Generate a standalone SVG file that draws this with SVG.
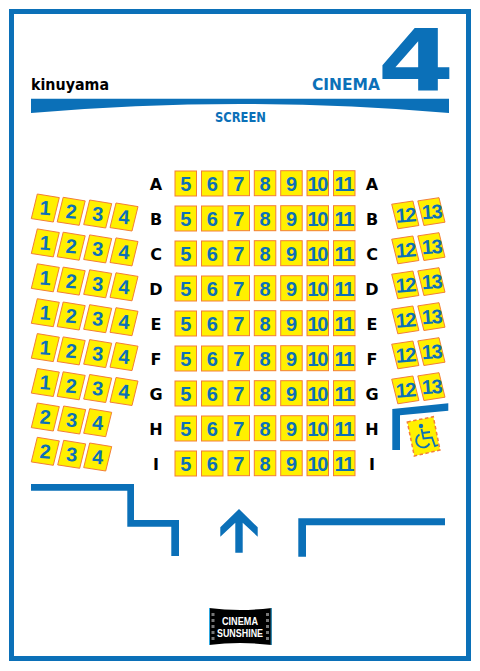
<svg xmlns="http://www.w3.org/2000/svg" width="480" height="671" viewBox="0 0 480 671">
<style>
.b{fill:#0b70b8}
.m{fill:#fff000;stroke:#f37e38;stroke-width:1}
text{font-family:"Liberation Sans",Arial,sans-serif;font-weight:700;text-anchor:middle}
.n{font-size:20px;fill:#0b70b8}
.nn{font-size:20px;fill:#0b70b8;letter-spacing:-1.500px}
.r{font-family:"DejaVu Sans",sans-serif;font-size:16px;fill:#000}
.d{font-family:"DejaVu Sans",sans-serif}
</style>
<defs>
<rect id="c" class="m" x="0" y="0" width="21.5" height="25"/>
<polygon id="L" class="m" points="-8,-14 14,-10.4 8,14 -14,10.6"/>
<polygon id="R" class="m" points="-13.6,-10.8 7.6,-14 13.6,10.5 -7.5,13.8"/>
<g id="k">
<g transform="translate(175,0)"><use href="#c"/><text class="n" x="10.75" y="20">5</text></g>
<g transform="translate(201.5,0)"><use href="#c"/><text class="n" x="10.75" y="20">6</text></g>
<g transform="translate(228,-.3)"><use href="#c"/><text class="n" x="10.75" y="20">7</text></g>
<g transform="translate(254.3,-.3)"><use href="#c"/><text class="n" x="10.75" y="20">8</text></g>
<g transform="translate(280.7,-.3)"><use href="#c"/><text class="n" x="10.75" y="20">9</text></g>
<g transform="translate(307,-.3)"><use href="#c"/><text class="nn" x="10.2" y="20">10</text></g>
<g transform="translate(333.5,-.3)"><use href="#c"/><text class="nn" x="10.2" y="20">11</text></g>
</g>
<g id="l4">
<g transform="translate(45.3,208)"><use href="#L"/><text class="n" y="7" transform="rotate(4)">1</text></g>
<g transform="translate(71.2,211.3)"><use href="#L"/><text class="n" y="7" transform="rotate(4)">2</text></g>
<g transform="translate(97.7,214)"><use href="#L"/><text class="n" y="7" transform="rotate(4)">3</text></g>
<g transform="translate(124,217)"><use href="#L"/><text class="n" y="7" transform="rotate(4)">4</text></g>
</g>
<g id="l3">
<g transform="translate(45.3,0)"><use href="#L"/><text class="n" y="7" transform="rotate(4)">2</text></g>
<g transform="translate(71.7,3)"><use href="#L"/><text class="n" y="7" transform="rotate(4)">3</text></g>
<g transform="translate(97.7,5.7)"><use href="#L"/><text class="n" y="7" transform="rotate(4)">4</text></g>
</g>
<g id="r2">
<g transform="translate(405.3,215)"><use href="#R"/><text class="nn" y="7" transform="rotate(-4)">12</text></g>
<g transform="translate(431.4,211.7)"><use href="#R"/><text class="nn" y="7" transform="rotate(-4)">13</text></g>
</g>
</defs>
<rect width="480" height="671" fill="#fff"/>
<rect id="frame" x="11.5" y="11.5" width="457" height="647" fill="none" stroke="#0b70b8" stroke-width="5"/>

<g id="header">
<text class="d" x="70" y="90" font-size="15.500" textLength="78" lengthAdjust="spacingAndGlyphs" fill="#000">kinuyama</text>
<text class="d b" x="346" y="90" font-size="16" textLength="68" lengthAdjust="spacingAndGlyphs">CINEMA</text>
<text class="d b" transform="translate(416,90) scale(1.3,1)" font-size="85">4</text>
<path id="screen" class="b" d="M31,98.7H449V113Q240,95 31,113Z"/>
<text class="d b" x="240.500" y="122" font-size="13.500" textLength="51" lengthAdjust="spacingAndGlyphs">SCREEN</text>
</g>

<g id="row-labels">
<text class="r" x="156" y="190">A</text><text class="r" x="372" y="190">A</text>
<text class="r" x="156" y="225">B</text><text class="r" x="372" y="225">B</text>
<text class="r" x="156" y="260">C</text><text class="r" x="372" y="260">C</text>
<text class="r" x="156" y="295">D</text><text class="r" x="372" y="295">D</text>
<text class="r" x="156" y="330">E</text><text class="r" x="372" y="330">E</text>
<text class="r" x="156" y="365">F</text><text class="r" x="372" y="365">F</text>
<text class="r" x="156" y="400">G</text><text class="r" x="372" y="400">G</text>
<text class="r" x="156" y="435">H</text><text class="r" x="372" y="435">H</text>
<text class="r" x="156" y="470">I</text><text class="r" x="372" y="470">I</text>
</g>

<g id="seats-center">
<use href="#k" y="171"/><use href="#k" y="206"/><use href="#k" y="241"/><use href="#k" y="276"/><use href="#k" y="311"/><use href="#k" y="346"/><use href="#k" y="381"/><use href="#k" y="416"/><use href="#k" y="451"/>
</g>
<g id="seats-left">
<use href="#l4"/><use href="#l4" y="34.9"/><use href="#l4" y="69.8"/><use href="#l4" y="104.700"/><use href="#l4" y="139.600"/><use href="#l4" y="174.500"/>
<use href="#l3" y="417"/><use href="#l3" y="451.300"/>
</g>
<g id="seats-right">
<use href="#r2"/><use href="#r2" y="35"/><use href="#r2" y="70"/><use href="#r2" y="105"/><use href="#r2" y="140"/><use href="#r2" y="175"/>
</g>

<g id="wheelchair-area">
<polygon class="b" points="392.300,409 448.300,403.300 448.300,410.700 400,415.300 400,450 392.300,450"/>
<polygon points="407.300,422 433.300,416.700 440,450 414.300,456" fill="#fff000" stroke="#f37e38" stroke-width="1.500" stroke-dasharray="3.500 2.500"/>
<circle cx="421" cy="426" r="2.200" class="b"/>
<path d="M421.500,429L423.500,438.500L432,437.500L435,446L438,445M422.500,433L430,432M419.500,434.500A7,7 0 1 0 429.500,443.500" fill="none" stroke="#0b70b8" stroke-width="1.800"/>
</g>

<g id="walls">
<polygon class="b" points="31,484 134,484 134,520 179,520 179,556 171.300,556 171.300,526.700 127.300,526.700 127.300,490.700 31,490.700"/>
<polygon class="b" points="298.300,518.300 445,518.300 445,525.300 306,525.300 306,556.700 298.300,556.700"/>
<polygon id="entrance-arrow" class="b" points="239,509 257.700,527.300 257.700,536.700 242.700,522.700 242.700,552.700 235.300,552.700 235.300,522.700 220.300,536.700 220.300,527.300"/>
</g>

<g id="logo">
<path d="M209,608Q240,612 271.700,608V645Q240,641 209,645Z" fill="#000"/>
<path d="M209.500,608V645M271.200,608V645" stroke="#2fa8e0" stroke-width="1" fill="none"/>
<path d="M213,613V641M267.500,613V641" stroke="#777" stroke-width="3" stroke-dasharray="3 3" fill="none"/>
<text x="240" y="624.800" font-size="10" textLength="36" lengthAdjust="spacingAndGlyphs" fill="#fff">CINEMA</text>
<text x="240" y="637" font-size="10" textLength="46" lengthAdjust="spacingAndGlyphs" fill="#fff">SUNSHINE</text>
</g>
</svg>
